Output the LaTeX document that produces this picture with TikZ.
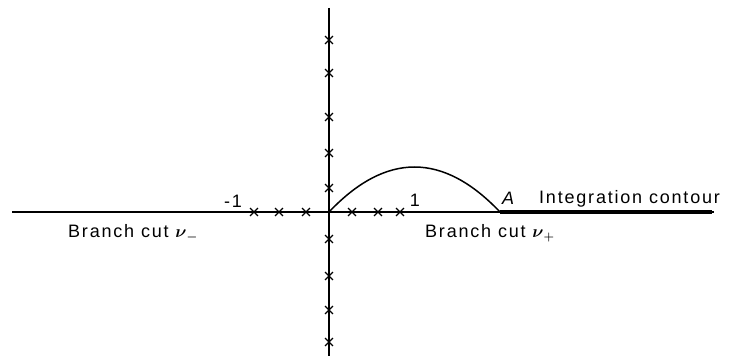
\documentclass[tikz,border=0pt]{standalone}
\usepackage{amsmath}
\usepackage{fontspec}
\setmainfont{Liberation Sans}[LetterSpace=10]
\usetikzlibrary{shapes.misc}
\begin{document}
\begin{tikzpicture}[x=1pt,y=-1pt,
  axis/.style={line width=1.3pt},
  cutline/.style={line width=2.2pt},
  contourline/.style={line width=3.2pt},
  pole/.style={cross out,draw,line width=1.3pt,minimum size=6.5pt,inner sep=0pt},
  lbl/.style={font=\fontsize{18}{20}\selectfont,inner sep=1pt},
]
\useasboundingbox (0,0) rectangle (729,361);
\fill[white] (0,0) rectangle (729,361);
% key points
\coordinate (O) at (329,212);
\coordinate (top) at (329,8);
\coordinate (bot) at (329,356);
\coordinate (mL) at (240,212);
\coordinate (pL) at (412,212);
\coordinate (Lend) at (12,212);
\coordinate (Rend) at (714,212);
\coordinate (A) at (500,212);
\coordinate (Cend) at (712,212);
% axes
\draw[axis] (top) -- (bot);
\draw[axis] (mL) -- (pL);
% branch cuts
\draw[cutline] (Lend) -- (mL);
\draw[cutline] (pL) -- (Rend);
\draw[contourline] (A) -- (Cend);
% contour arc
\draw[line width=1.5pt] (O) .. controls (386,152) and (443,152) .. (A);
% poles on real axis
\foreach \n/\x in {a/254,b/279,c/306,d/352,e/378,f/400}
  \node[pole] (h\n) at (\x,212) {};
% poles on imaginary axis
\foreach \n/\y in {a/40,b/73,c/117,d/153,e/188,f/239,g/276,h/310,i/342}
  \node[pole] (v\n) at (329,\y) {};
% labels
\node[lbl] (m1) at (233,201) {-1};
\node[lbl] (p1) at (415,200) {1};
\node[lbl,font=\fontsize{18}{20}\selectfont\itshape] (Alab) at (508,198) {A};
\node[lbl,anchor=west] (ic) at (538,199) {Integration contour};
\node[lbl,anchor=west] (bcp) at (424,233) {Branch cut $\boldsymbol{\nu}_{\boldsymbol{+}}$};
\node[lbl,anchor=west] (bcm) at (67,233) {Branch cut $\boldsymbol{\nu}_{\boldsymbol{-}}$};
\end{tikzpicture}
\end{document}
